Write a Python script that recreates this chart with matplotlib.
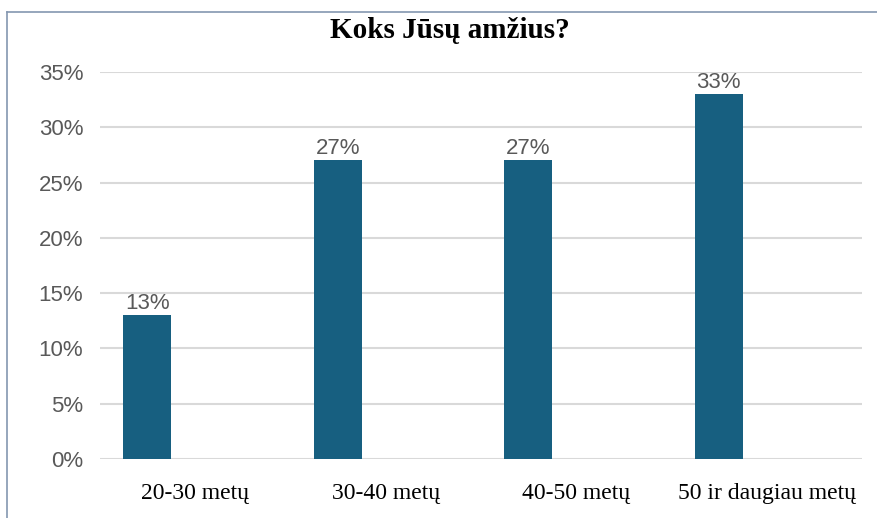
import matplotlib
matplotlib.use('Agg')
import matplotlib.pyplot as plt
import numpy as np

categories = ['20-30 metų', '30-40 metų', '40-50 metų', '50 ir daugiau metų']
values = [13, 27, 27, 33]
yticks = [0, 5, 10, 15, 20, 25, 30, 35]

bar_color = '#175f80'
grid_color = '#d9d9d9'
text_gray = '#595959'

fig = plt.figure(figsize=(8.78, 5.18), dpi=100)
ax = fig.add_axes([100 / 878, 1 - 459 / 518, 762 / 878, 387 / 518])

x = np.arange(len(categories))
# bars sit in the left half of each category slot
ax.bar(x - 0.252, values, width=0.252, color=bar_color, zorder=3)

for xi, v in zip(x, values):
    ax.text(xi - 0.252, v + 0.1, f'{v}%', ha='center', va='bottom',
            fontsize=16, color=text_gray, family='Liberation Sans', zorder=4)

ax.set_xlim(-0.5, 3.5)
ax.set_ylim(0, 35)
ax.set_yticks(yticks)
ax.set_yticklabels([f'{t}%' for t in yticks], fontsize=16, color=text_gray,
                   family='Liberation Sans')
ax.set_xticks(x)
ax.set_xticklabels(categories, fontsize=17, family='Liberation Serif', color='black')
ax.tick_params(axis='both', length=0)
ax.tick_params(axis='x', pad=17)
ax.tick_params(axis='y', pad=12)

ax.yaxis.grid(True, color=grid_color, linewidth=1.5, zorder=0)
for s in ax.spines.values():
    s.set_visible(False)

fig.text(450 / 878, 1 - 31 / 518, 'Koks Jūsų amžius?', ha='center', va='center',
         fontsize=21, fontweight='bold', family='Liberation Serif')

# frame lines on top and left of the picture
fig.add_artist(plt.Line2D([7 / 878, 1], [1 - 12 / 518, 1 - 12 / 518],
                          color='#8497b0', linewidth=1.2))
fig.add_artist(plt.Line2D([7 / 878, 7 / 878], [0, 1 - 12 / 518],
                          color='#8497b0', linewidth=1.2))

fig.savefig('out.png', dpi=100)
